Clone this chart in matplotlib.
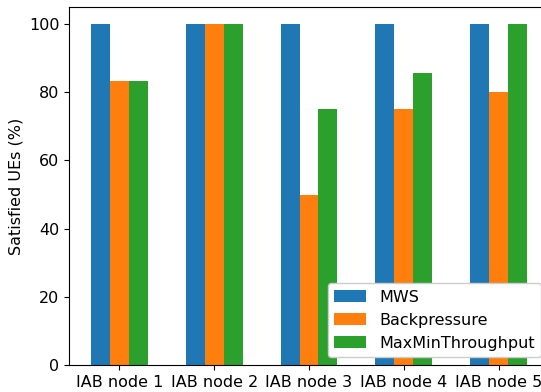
import numpy as np
import matplotlib.pyplot as plt

nodes = ['IAB node 1', 'IAB node 2', 'IAB node 3', 'IAB node 4', 'IAB node 5']
mws = [100, 100, 100, 100, 100]
backpressure = [83.33, 100, 50, 75, 80]
maxmin = [83.33, 100, 75, 85.71, 100]

x = np.arange(len(nodes))
w = 0.2

plt.rcParams['font.size'] = 11.5

fig = plt.figure(figsize=(5.41, 3.92), dpi=100)
# axes runs a little past the right edge of the figure
ax = fig.add_axes([69 / 541, 27 / 392, 480 / 541, 358 / 392])

ax.bar(x - w, mws, w, label='MWS')
ax.bar(x, backpressure, w, label='Backpressure')
ax.bar(x + w, maxmin, w, label='MaxMinThroughput')

ax.set_xticks(x)
ax.set_xticklabels(nodes)
ax.set_ylabel('Satisfied UEs (%)')
ax.legend(loc='lower right', framealpha=1)

fig.savefig('out.png', dpi=100)
